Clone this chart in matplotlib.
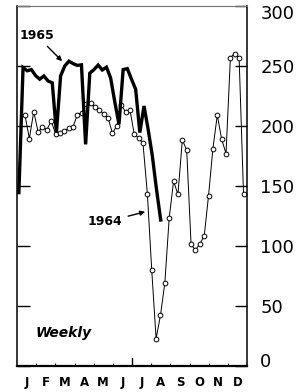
import numpy as np
import matplotlib
matplotlib.use("Agg")
from matplotlib import pyplot as plt
from matplotlib import transforms

# Donnees (valeurs hebdomadaires)
vals_1964 = [209, 189.5, 212, 195, 199, 197, 204, 193.5, 194, 196,
             198, 199.5, 209.5, 211, 218.5, 219, 216, 213.5, 210, 207,
             194, 200, 217.5, 212, 213.7, 193.3, 190, 185.5, 143.5, 80,
             22.8, 42.2, 69.3, 123.5, 154, 143, 188.3, 180, 101.4, 96.4,
             102, 108, 142, 181.2, 209, 189, 177, 257, 260.3, 256.4,
             143.6]
vals_1965 = [144.5, 248.7, 246, 247, 242, 239, 241.7, 237.5, 236, 194.5,
             241.7, 250, 254, 252, 250.5, 251, 184.7, 244, 247, 250.8,
             246.7, 249, 240, 220, 201.4, 247, 247.8, 239, 230.6, 194.5,
             216.7, 197, 175, 147, 121.7]
months = ["J", "F", "M", "A", "M", "J", "J", "A", "S", "O", "N", "D"]
y_ticks = [0, 50, 100, 150, 200, 250, 300]

weeks_1964 = np.arange(1, len(vals_1964) + 1)
weeks_1965 = np.linspace(-0.4, 32.05, len(vals_1965))
x0, x1 = -0.83, 51.8

fig = plt.figure(figsize=(3.07, 3.92), dpi=100)
ax = fig.add_axes([17 / 307, 1 - 366 / 392, 230 / 307, 360 / 392])

ax.plot(weeks_1964, vals_1964, color="black", lw=0.7, marker="o",
        markersize=3.4, markerfacecolor="white", markeredgewidth=0.7, zorder=2)
ax.plot(weeks_1965, vals_1965, color="black", lw=2.4, solid_joinstyle="miter", zorder=3)

ax.set_xlim(x0, x1)
ax.set_ylim(0, 300)

# Axe vertical a droite
ax.yaxis.tick_right()
ax.set_yticks(y_ticks)
ax.set_yticklabels([str(v) for v in y_ticks], fontsize=13, family="DejaVu Sans")
ax.tick_params(axis="y", which="both", direction="in", length=9, width=1,
               pad=9.5, left=True, right=True, labelleft=False, labelright=True)
labels = ax.get_yticklabels()
labels[0].set_transform(labels[0].get_transform() +
                        transforms.ScaledTranslation(0, 6 / 100, fig.dpi_scale_trans))
labels[-1].set_transform(labels[-1].get_transform() +
                         transforms.ScaledTranslation(0, -6 / 100, fig.dpi_scale_trans))

# Mois en bas
step = (x1 - x0) / 12
centers = x0 + (np.arange(12) + 0.5) * step
bounds = x0 + np.arange(1, 12) * step
ax.set_xticks(centers)
ax.set_xticklabels(months, fontsize=8.5, fontweight="bold")
ax.set_xticks(bounds, minor=True)
ax.tick_params(axis="x", which="major", length=0, pad=7.5)
ax.tick_params(axis="x", which="minor", direction="in", length=2.5, width=0.8)
ax.axvline(bounds[5], ymin=0, ymax=0.022, color="black", lw=1)

for side in ["left", "right", "bottom"]:
    ax.spines[side].set_linewidth(1.1)
ax.spines["bottom"].set_linewidth(1.6)
ax.spines["top"].set_linewidth(0.8)
ax.spines["top"].set_color("0.45")

# Annotations
ax.annotate("1965", xy=(9.5, 254), xytext=(-0.2, 275), fontsize=9,
            fontweight="bold", ha="left", va="center",
            arrowprops=dict(arrowstyle="-|>", color="black", lw=1,
                            mutation_scale=7, shrinkA=1, shrinkB=0))
ax.annotate("1964", xy=(28.5, 128.5), xytext=(15.4, 120), fontsize=9,
            fontweight="bold", ha="left", va="center",
            arrowprops=dict(arrowstyle="-|>", color="black", lw=1,
                            mutation_scale=7, shrinkA=2, shrinkB=0))
ax.text(3.3, 27.5, "Weekly", fontsize=10, fontweight="bold", fontstyle="italic",
        ha="left", va="center")

fig.savefig("out.png", dpi=100)
